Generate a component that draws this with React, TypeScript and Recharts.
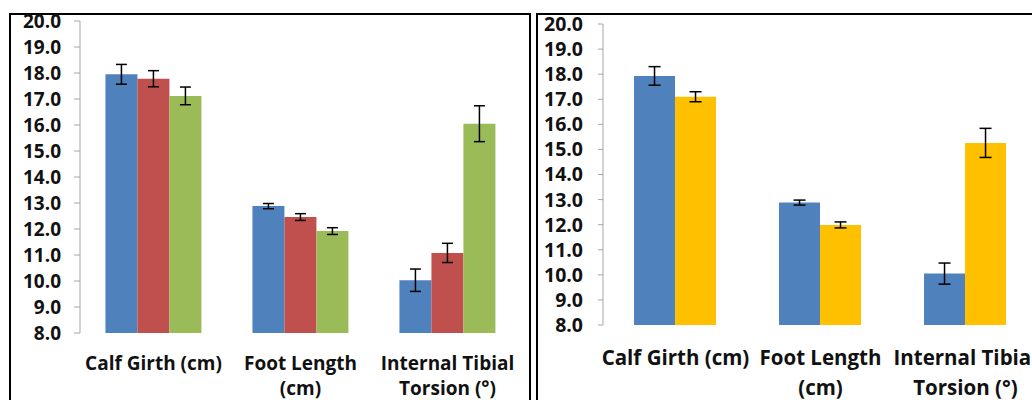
import React from 'react';
import { BarChart, Bar, XAxis, YAxis, ErrorBar } from 'recharts';

const categories = ['Calf Girth (cm)', 'Foot Length\n(cm)', 'Internal Tibial\nTorsion (°)'];
const yTicks = [8, 9, 10, 11, 12, 13, 14, 15, 16, 17, 18, 19, 20];
const edgeTicks = [0, 1, 2, 3];

// left panel
const leftBlue = [17.95, 12.88, 10.03];
const leftBlueErr = [0.38, 0.1, 0.43];
const leftRed = [17.78, 12.46, 11.08];
const leftRedErr = [0.31, 0.13, 0.37];
const leftGreen = [17.12, 11.92, 16.05];
const leftGreenErr = [0.34, 0.13, 0.69];

// right panel
const rightBlue = [17.93, 12.88, 10.05];
const rightBlueErr = [0.37, 0.1, 0.42];
const rightYellow = [17.1, 11.99, 15.26];
const rightYellowErr = [0.2, 0.12, 0.58];

const leftData = categories.map((c, i) => ({
  cat: c,
  blue: leftBlue[i], blueErr: leftBlueErr[i],
  red: leftRed[i], redErr: leftRedErr[i],
  green: leftGreen[i], greenErr: leftGreenErr[i],
}));

const rightData = categories.map((c, i) => ({
  cat: c,
  blue: rightBlue[i], blueErr: rightBlueErr[i],
  yellow: rightYellow[i], yellowErr: rightYellowErr[i],
}));

const FONT = '"Open Sans", Lato, sans-serif';
const AXIS = '#a6a6a6';

const CatTick = ({ x, y, payload, fontSize, first, step }: any) => {
  const lines = String(payload.value).split('\n');
  return (
    <text x={x} y={y} textAnchor="middle" fontFamily={FONT} fontWeight={700} fontSize={fontSize} fill="#111">
      {lines.map((l, i) => (
        <tspan key={i} x={x} y={y + first + i * step} dominantBaseline="central">{l}</tspan>
      ))}
    </text>
  );
};

const errProps = { dataKey: '', width: 5.5, stroke: '#000', strokeWidth: 1.5, direction: 'y' as const };

const LeftChart = () => (
  <BarChart width={529} height={400} data={leftData} margin={{ top: 21, right: 8, bottom: 0, left: 0 }}
    barCategoryGap="17.3%" barGap={0}>
    <XAxis xAxisId="edge" type="number" domain={[0, 3]} ticks={edgeTicks} interval={0} tick={false}
      height={0} stroke={AXIS} tickSize={7} allowDataOverflow />
    <XAxis xAxisId="cat" dataKey="cat" height={67} axisLine={false} tickLine={false} tickSize={0} tickMargin={0}
      interval={0} tick={<CatTick fontSize={19} first={30} step={25} />} />
    <YAxis domain={[8, 20]} ticks={yTicks} interval={0} width={80} stroke={AXIS} tickSize={6} tickMargin={13}
      tickFormatter={(v: number) => v.toFixed(1)}
      tick={{ fill: '#111', fontFamily: FONT, fontWeight: 700, fontSize: 19 }} />
    <Bar xAxisId="cat" dataKey="blue" fill="#4f81bd" isAnimationActive={false}>
      <ErrorBar {...errProps} dataKey="blueErr" />
    </Bar>
    <Bar xAxisId="cat" dataKey="red" fill="#c0504d" isAnimationActive={false}>
      <ErrorBar {...errProps} dataKey="redErr" />
    </Bar>
    <Bar xAxisId="cat" dataKey="green" fill="#9bbb59" isAnimationActive={false}>
      <ErrorBar {...errProps} dataKey="greenErr" />
    </Bar>
  </BarChart>
);

const RightChart = () => (
  <BarChart width={520} height={400} data={rightData} margin={{ top: 24, right: 18, bottom: 0, left: 0 }}
    barCategoryGap="21.4%" barGap={0}>
    <XAxis xAxisId="edge" type="number" domain={[0, 3]} ticks={edgeTicks} interval={0} tick={false}
      height={0} stroke={AXIS} tickSize={7} allowDataOverflow />
    <XAxis xAxisId="cat" dataKey="cat" height={75} axisLine={false} tickLine={false} tickSize={0} tickMargin={0}
      interval={0} tick={<CatTick fontSize={20.5} first={32} step={30} />} />
    <YAxis domain={[8, 20]} ticks={yTicks} interval={0} width={67} stroke={AXIS} tickSize={5} tickMargin={15}
      tickFormatter={(v: number) => v.toFixed(1)}
      tick={{ fill: '#111', fontFamily: FONT, fontWeight: 700, fontSize: 19.5 }} />
    <Bar xAxisId="cat" dataKey="blue" fill="#4f81bd" isAnimationActive={false}>
      <ErrorBar {...errProps} width={6} dataKey="blueErr" />
    </Bar>
    <Bar xAxisId="cat" dataKey="yellow" fill="#ffc000" isAnimationActive={false}>
      <ErrorBar {...errProps} width={6} dataKey="yellowErr" />
    </Bar>
  </BarChart>
);

export default function App() {
  return (
    <div style={{ position: 'absolute', left: 0, top: 0, width: 1032, height: 400, overflow: 'hidden', background: '#fff' }}>
      <div style={{ position: 'absolute', left: 9, top: 13, width: 518, height: 420, border: '2px solid #000' }} />
      <div style={{ position: 'absolute', left: 536, top: 13, width: 520, height: 420, border: '2px solid #000' }} />
      <div style={{ position: 'absolute', left: 0, top: 0 }}>
        <LeftChart />
      </div>
      <div style={{ position: 'absolute', left: 536, top: 0 }}>
        <RightChart />
      </div>
    </div>
  );
}
